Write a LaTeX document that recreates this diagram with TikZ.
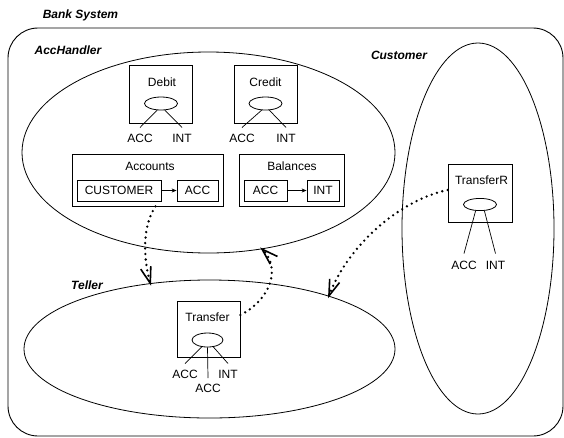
\documentclass[tikz,border=0pt]{standalone}
\usepackage{fontspec}
\setmainfont{Liberation Sans}
\usetikzlibrary{shapes.geometric,arrows.meta,calc}

\begin{document}
\begin{tikzpicture}[x=1pt,y=-1pt,
  every node/.style={font=\fontsize{12}{14}\selectfont, inner sep=0pt,
    text height=8.6pt, text depth=0pt},
  title/.style={font=\fontsize{12}{14}\selectfont\bfseries\itshape},
  region/.style={draw, ellipse, line width=0.8pt},
  procbox/.style={draw, rectangle, line width=0.8pt},
  port/.style={draw, ellipse, line width=0.8pt, minimum width=33pt, minimum height=13pt},
  wire/.style={line width=0.7pt},
  flow/.style={line width=2.6pt, dash pattern=on 0pt off 5.5pt, line cap=round},
  barb/.style={line width=1.6pt, line cap=butt, line join=miter},
  link/.style={line width=0.8pt, -{Stealth[length=5pt, width=4pt]}}
]
\useasboundingbox (0,0) rectangle (564,437);

% system boundary
\node[title] (sysT) at (80.5,14) {Bank System};
\draw[line width=0.9pt, rounded corners=30pt] (8,28) rectangle (563,436);

% the three subsystems
\node[region, minimum width=373pt, minimum height=201pt] (acch) at (208.5,152.5) {};
\node[title] (acchT) at (68,50) {AccHandler};
\node[region, minimum width=152pt, minimum height=371pt] (cust) at (478,228.5) {};
\node[title] (custT) at (399,55) {Customer};
\node[region, minimum width=371pt, minimum height=138pt] (tell) at (209.5,349) {};
\node[title] (tellT) at (87,285) {Teller};

% Debit
\node[procbox, minimum width=63pt, minimum height=58pt] (debit) at (160.5,94) {};
\node (debitT) at (162,82) {Debit};
\node[port] (debitP) at (161,103.5) {};
\node (debitA) at (140,138) {ACC};
\node (debitI) at (182,138) {INT};
\draw[wire] (debitP.-120) -- ([yshift=6pt]debitA.north);
\draw[wire] (debitP.-60) -- ([yshift=6pt]debitI.north);

% Credit
\node[procbox, minimum width=63pt, minimum height=58pt] (credit) at (265.5,94) {};
\node (creditT) at (265.5,82) {Credit};
\node[port] (creditP) at (265.5,103.5) {};
\node (creditA) at (242,138) {ACC};
\node (creditI) at (286,138) {INT};
\draw[wire] (creditP.-120) -- ([yshift=6pt]creditA.north);
\draw[wire] (creditP.-60) -- ([yshift=6pt]creditI.north);

% Accounts
\node[procbox, minimum width=151pt, minimum height=52pt] (accounts) at (147.5,180) {};
\node (accountsT) at (150,166) {Accounts};
\node[procbox, minimum width=84pt, minimum height=21pt] (custBox) at (119,190.5) {CUSTOMER};
\node[procbox, minimum width=41pt, minimum height=21pt] (accBox) at (197.5,190.5) {ACC};
\draw[link] (custBox.east) -- (accBox.west);

% Balances
\node[procbox, minimum width=105pt, minimum height=52pt] (balances) at (291.5,180) {};
\node (balancesT) at (292,166) {Balances};
\node[procbox, minimum width=43pt, minimum height=21pt] (balAcc) at (265.5,190.5) {ACC};
\node[procbox, minimum width=32pt, minimum height=21pt] (balInt) at (323,190.5) {INT};
\draw[link] (balAcc.east) -- (balInt.west);

% Transfer
\node[procbox, minimum width=63pt, minimum height=56pt] (transfer) at (208.5,329) {};
\node (transferT) at (207.5,317) {Transfer};
\node[port, minimum width=31pt, minimum height=14pt] (transferP) at (207.5,340) {};
\node (transferA) at (185,374) {ACC};
\node (transferI) at (228,374) {INT};
\node (transferB) at (208,388.5) {ACC};
\draw[wire] (transferP.-130) -- ([yshift=6pt]transferA.north);
\draw[wire] (transferP.-50) -- ([yshift=6pt]transferI.north);
\draw[wire] (transferP.south) -- ([yshift=6pt]transferB.north);

% TransferR
\node[procbox, minimum width=64pt, minimum height=58pt] (transferR) at (480,193) {};
\node (transferRT) at (481.5,180) {TransferR};
\node[port, minimum height=11pt] (transferRP) at (480,204.5) {};
\node (transferRA) at (464,265) {ACC};
\node (transferRI) at (495.5,265) {INT};
\draw[wire] (transferRP.-125) -- ([yshift=7pt]transferRA.north);
\draw[wire] (transferRP.-55) -- ([yshift=7pt]transferRI.north);

% interactions: dotted curves, each ending in an open arrowhead
\coordinate (tipA) at (tell.132.5);
\coordinate (ctlA) at (145,265);
\draw[flow] ([xshift=8pt]accounts.south) .. controls (140,230) and (ctlA) .. (tipA);
\draw[barb] ($(tipA)!17pt!18:(ctlA)$) -- (tipA) -- ($(tipA)!17pt!-18:(ctlA)$);

\coordinate (tipB) at (acch.-61.2);
\coordinate (ctlB) at (282,268);
\draw[flow] ([yshift=14pt]transfer.east) .. controls (270,300) and (ctlB) .. (tipB);
\draw[barb] ($(tipB)!17pt!18:(ctlB)$) -- (tipB) -- ($(tipB)!17pt!-18:(ctlB)$);

\coordinate (tipC) at (tell.24.5);
\coordinate (ctlC) at (348,245);
\draw[flow] ([yshift=3pt]transferR.west) .. controls (400,200) and (ctlC) .. (tipC);
\draw[barb] ($(tipC)!17pt!18:(ctlC)$) -- (tipC) -- ($(tipC)!17pt!-18:(ctlC)$);
\end{tikzpicture}
\end{document}
